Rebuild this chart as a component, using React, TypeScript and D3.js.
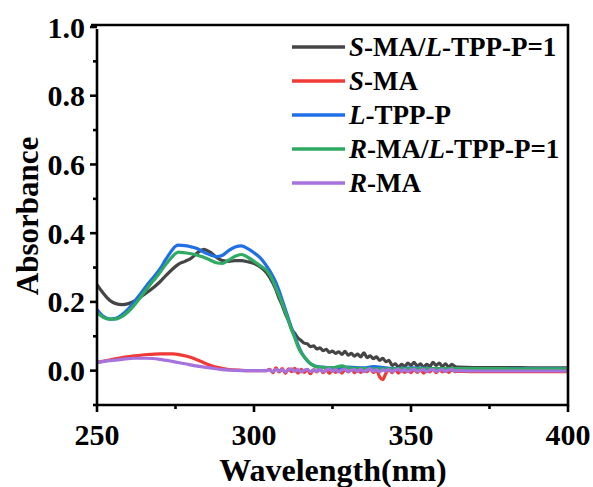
import React from "react";
import * as d3 from "d3";

const W = 593;
const H = 487;

const xTicks = [250, 300, 350, 400];
const xMinor = [275, 325, 375];
const yTicks = [0.0, 0.2, 0.4, 0.6, 0.8, 1.0];
const yMinor = [-0.1, 0.1, 0.3, 0.5, 0.7, 0.9];

// [wavelength (nm), absorbance]
const sMaLTpp: [number, number][] = [
  [250, 0.25], [252, 0.225], [254, 0.205], [256, 0.195], [258, 0.192], [260, 0.195],
  [262, 0.203], [264, 0.215], [266, 0.228], [268, 0.242], [270, 0.258], [272, 0.277],
  [274, 0.295], [276, 0.31], [278, 0.318], [280, 0.327], [282, 0.343], [284, 0.353],
  [286, 0.345], [288, 0.33], [290, 0.32], [292, 0.318], [294, 0.32], [296, 0.32],
  [298, 0.317], [300, 0.312], [302, 0.302], [304, 0.285], [306, 0.255], [307, 0.235],
  [308, 0.21], [309, 0.19], [310, 0.165], [311, 0.145], [312, 0.12], [313, 0.108],
  [314, 0.095], [315, 0.088], [316, 0.08], [317, 0.078], [318, 0.07], [319, 0.072],
  [320, 0.063], [321, 0.066], [322, 0.058], [323, 0.062], [324, 0.053], [325, 0.057],
  [326, 0.05], [327, 0.055], [328, 0.047], [329, 0.056], [330, 0.045], [331, 0.05],
  [332, 0.042], [333, 0.048], [334, 0.04], [335, 0.052], [336, 0.038], [337, 0.043],
  [338, 0.035], [339, 0.04], [340, 0.03], [341, 0.036], [342, 0.026], [343, 0.03],
  [344, 0.015], [345, 0.02], [346, 0.01], [347, 0.018], [348, 0.012], [349, 0.022],
  [350, 0.015], [351, 0.024], [352, 0.013], [353, 0.02], [354, 0.01], [355, 0.018],
  [356, 0.012], [357, 0.024], [358, 0.015], [359, 0.022], [360, 0.012], [361, 0.02],
  [362, 0.01], [363, 0.018], [364, 0.012], [365, 0.01], [370, 0.009], [380, 0.009],
  [390, 0.008], [400, 0.008],
];

const sMa: [number, number][] = [
  [250, 0.024], [254, 0.031], [258, 0.038], [262, 0.043], [266, 0.047], [270, 0.049],
  [274, 0.049], [277, 0.045], [280, 0.038], [283, 0.027], [286, 0.016], [289, 0.008],
  [292, 0.003], [296, 0.001], [300, 0.0], [304, 0.0], [305, 0.004], [306, -0.006],
  [307, 0.008], [308, -0.004], [309, 0.006], [310, -0.008], [311, 0.005], [312, -0.003],
  [313, 0.007], [314, -0.007], [315, 0.004], [316, -0.005], [317, 0.003], [318, -0.009],
  [319, 0.002], [320, -0.004], [321, 0.005], [322, -0.006], [323, 0.003], [324, -0.008],
  [325, 0.002], [326, -0.005], [327, 0.004], [328, -0.007], [329, 0.003], [330, -0.004],
  [331, 0.005], [332, -0.006], [333, 0.002], [334, -0.005], [335, 0.004], [336, -0.003],
  [337, 0.006], [338, -0.006], [339, 0.002], [340, -0.018], [341, -0.026], [342, -0.008],
  [343, 0.003], [344, -0.006], [345, 0.004], [346, -0.007], [347, 0.003], [348, -0.005],
  [349, 0.002], [350, -0.006], [351, 0.004], [352, -0.005], [353, 0.003], [354, -0.007],
  [355, 0.002], [356, -0.004], [357, 0.005], [358, -0.006], [359, 0.003], [360, -0.004],
  [361, 0.002], [362, -0.005], [363, 0.003], [364, -0.003], [365, -0.002], [370, -0.003],
  [380, -0.003], [390, -0.003], [400, -0.003],
];

const lTpp: [number, number][] = [
  [250, 0.178], [252, 0.158], [254, 0.15], [256, 0.152], [258, 0.163], [260, 0.18],
  [262, 0.202], [264, 0.225], [266, 0.25], [268, 0.272], [270, 0.295], [272, 0.325],
  [274, 0.352], [275, 0.362], [276, 0.365], [278, 0.364], [280, 0.36], [282, 0.355],
  [284, 0.345], [286, 0.337], [288, 0.332], [290, 0.336], [292, 0.35], [294, 0.36],
  [296, 0.363], [298, 0.355], [300, 0.343], [302, 0.328], [304, 0.305], [306, 0.275],
  [307, 0.256], [308, 0.232], [309, 0.205], [310, 0.178], [311, 0.15], [312, 0.123],
  [313, 0.1], [314, 0.075], [315, 0.055], [316, 0.04], [317, 0.028], [318, 0.02],
  [319, 0.015], [320, 0.012], [322, 0.01], [325, 0.008], [330, 0.01], [335, 0.008],
  [338, 0.012], [340, 0.01], [345, 0.006], [350, 0.008], [360, 0.006], [400, 0.006],
];

const rMaLTpp: [number, number][] = [
  [250, 0.17], [252, 0.155], [254, 0.15], [256, 0.15], [258, 0.158], [260, 0.172],
  [262, 0.192], [264, 0.215], [266, 0.24], [268, 0.262], [270, 0.285], [272, 0.31],
  [274, 0.332], [275, 0.341], [276, 0.345], [278, 0.343], [280, 0.34], [282, 0.336],
  [284, 0.33], [286, 0.322], [288, 0.314], [290, 0.312], [292, 0.322], [294, 0.333],
  [296, 0.338], [298, 0.33], [300, 0.318], [302, 0.305], [304, 0.292], [306, 0.262],
  [307, 0.24], [308, 0.218], [309, 0.195], [310, 0.17], [311, 0.145], [312, 0.118],
  [313, 0.095], [314, 0.07], [315, 0.052], [316, 0.04], [317, 0.03], [318, 0.02],
  [319, 0.015], [320, 0.01], [325, 0.008], [328, 0.014], [330, 0.008], [335, 0.006],
  [340, 0.005], [350, 0.006], [400, 0.005],
];

const rMa: [number, number][] = [
  [250, 0.024], [254, 0.029], [258, 0.033], [262, 0.036], [266, 0.036], [270, 0.033],
  [274, 0.027], [278, 0.02], [282, 0.013], [286, 0.008], [290, 0.003], [294, 0.001],
  [300, 0.0], [304, 0.0], [305, 0.002], [306, -0.003], [307, 0.004], [308, -0.001],
  [309, 0.003], [310, -0.004], [311, 0.002], [312, 0.005], [313, -0.002], [314, 0.003],
  [315, -0.004], [316, 0.001], [317, 0.004], [318, -0.003], [319, 0.002], [320, -0.002],
  [321, 0.004], [322, -0.003], [323, 0.001], [324, 0.005], [325, -0.002], [326, 0.003],
  [327, -0.004], [328, 0.002], [329, 0.004], [330, -0.003], [331, 0.001], [332, 0.003],
  [333, -0.002], [334, 0.004], [335, -0.003], [336, 0.002], [337, 0.005], [338, -0.002],
  [339, 0.003], [340, -0.004], [341, 0.002], [342, -0.001], [343, 0.004], [344, -0.003],
  [345, 0.002], [346, 0.004], [347, -0.002], [348, 0.003], [349, -0.003], [350, 0.002],
  [351, 0.004], [352, -0.002], [353, 0.001], [354, 0.003], [355, -0.003], [356, 0.002],
  [357, 0.004], [358, -0.002], [359, 0.001], [360, 0.003], [361, -0.002], [362, 0.002],
  [363, 0.003], [364, -0.001], [365, 0.0], [370, -0.001], [380, -0.001], [390, -0.001],
  [400, -0.001],
];

type Seg = { t: string; i?: boolean };
const seriesNames: Seg[][] = [
  [{ t: "S", i: true }, { t: "-MA/" }, { t: "L", i: true }, { t: "-TPP-P=1" }],
  [{ t: "S", i: true }, { t: "-MA" }],
  [{ t: "L", i: true }, { t: "-TPP-P" }],
  [{ t: "R", i: true }, { t: "-MA/" }, { t: "L", i: true }, { t: "-TPP-P=1" }],
  [{ t: "R", i: true }, { t: "-MA" }],
];
const seriesData = [sMaLTpp, sMa, lTpp, rMaLTpp, rMa];
const seriesColors = ["#454545", "#f03a36", "#1f6fe6", "#2eaa62", "#a672de"];

const FONT = "'Liberation Serif', 'Times New Roman', serif";

export default function App() {
  const left = 97, right = 568, top = 27, bottom = 405;
  const x = d3.scaleLinear().domain([250, 400]).range([left, right]);
  const y = d3.scaleLinear().domain([-0.1, 1.0]).range([bottom, top]);
  const line = d3
    .line<[number, number]>()
    .x((d) => x(d[0]))
    .y((d) => y(d[1]))
    .curve(d3.curveMonotoneX);

  const legX = 292, legY0 = 47, legDy = 34;

  return (
    <svg width={W} height={H} style={{ position: "absolute", left: 0, top: 0, background: "#fff" }}>
      <defs>
        <clipPath id="plot">
          <rect x={left} y={top - 2} width={right - left} height={bottom - top + 2} />
        </clipPath>
      </defs>
      <g clipPath="url(#plot)">
        {seriesData.map((d, i) => (
          <path
            key={i}
            d={line(d) || ""}
            fill="none"
            stroke={seriesColors[i]}
            strokeWidth={3.2}
            strokeLinejoin="round"
          />
        ))}
      </g>
      {/* frame */}
      <g stroke="#000" strokeWidth={2.6} fill="none">
        <line x1={91} x2={right + 1} y1={25} y2={25} />
        <line x1={right} x2={right} y1={24} y2={bottom + 1} />
        <line x1={left} x2={left} y1={top + 2} y2={bottom + 1} />
        <line x1={left - 1} x2={right + 1} y1={bottom} y2={bottom} />
      </g>
      {/* ticks */}
      <g stroke="#000" strokeWidth={2.6}>
        {xTicks.map((t) => (
          <line key={t} x1={x(t)} x2={x(t)} y1={bottom} y2={bottom + 7} />
        ))}
        {xMinor.map((t) => (
          <line key={t} x1={x(t)} x2={x(t)} y1={bottom} y2={bottom + 4} />
        ))}
        {yTicks.map((t) => (
          <line key={t} x1={left - 7} x2={left} y1={y(t)} y2={y(t)} />
        ))}
        {yMinor.map((t) => (
          <line key={t} x1={left - 4} x2={left} y1={y(t)} y2={y(t)} />
        ))}
      </g>
      <g fontFamily={FONT} fontWeight="bold" fontSize={30} fill="#000">
        {xTicks.map((t) => (
          <text key={t} x={x(t)} y={445} textAnchor="middle">
            {d3.format("d")(t)}
          </text>
        ))}
        {yTicks.map((t) => (
          <text key={t} x={85} y={y(t)} textAnchor="end" dominantBaseline="central">
            {d3.format(".1f")(t)}
          </text>
        ))}
      </g>
      <text
        x={333}
        y={481}
        textAnchor="middle"
        fontFamily={FONT}
        fontWeight="bold"
        fontSize={32}
      >
        Wavelength(nm)
      </text>
      <text
        transform="translate(38,216) rotate(-90)"
        textAnchor="middle"
        fontFamily={FONT}
        fontWeight="bold"
        fontSize={31}
      >
        Absorbance
      </text>
      {/* legend */}
      <g fontFamily={FONT} fontWeight="bold" fontSize={27}>
        {seriesNames.map((segs, i) => (
          <g key={i} transform={`translate(0,${legY0 + i * legDy})`}>
            <line x1={legX} x2={legX + 53} y1={0} y2={0} stroke={seriesColors[i]} strokeWidth={3.5} />
            <text x={legX + 57} y={0} dominantBaseline="central">
              {segs.map((s, k) => (
                <tspan key={k} fontStyle={s.i ? "italic" : "normal"}>
                  {s.t}
                </tspan>
              ))}
            </text>
          </g>
        ))}
      </g>
    </svg>
  );
}
